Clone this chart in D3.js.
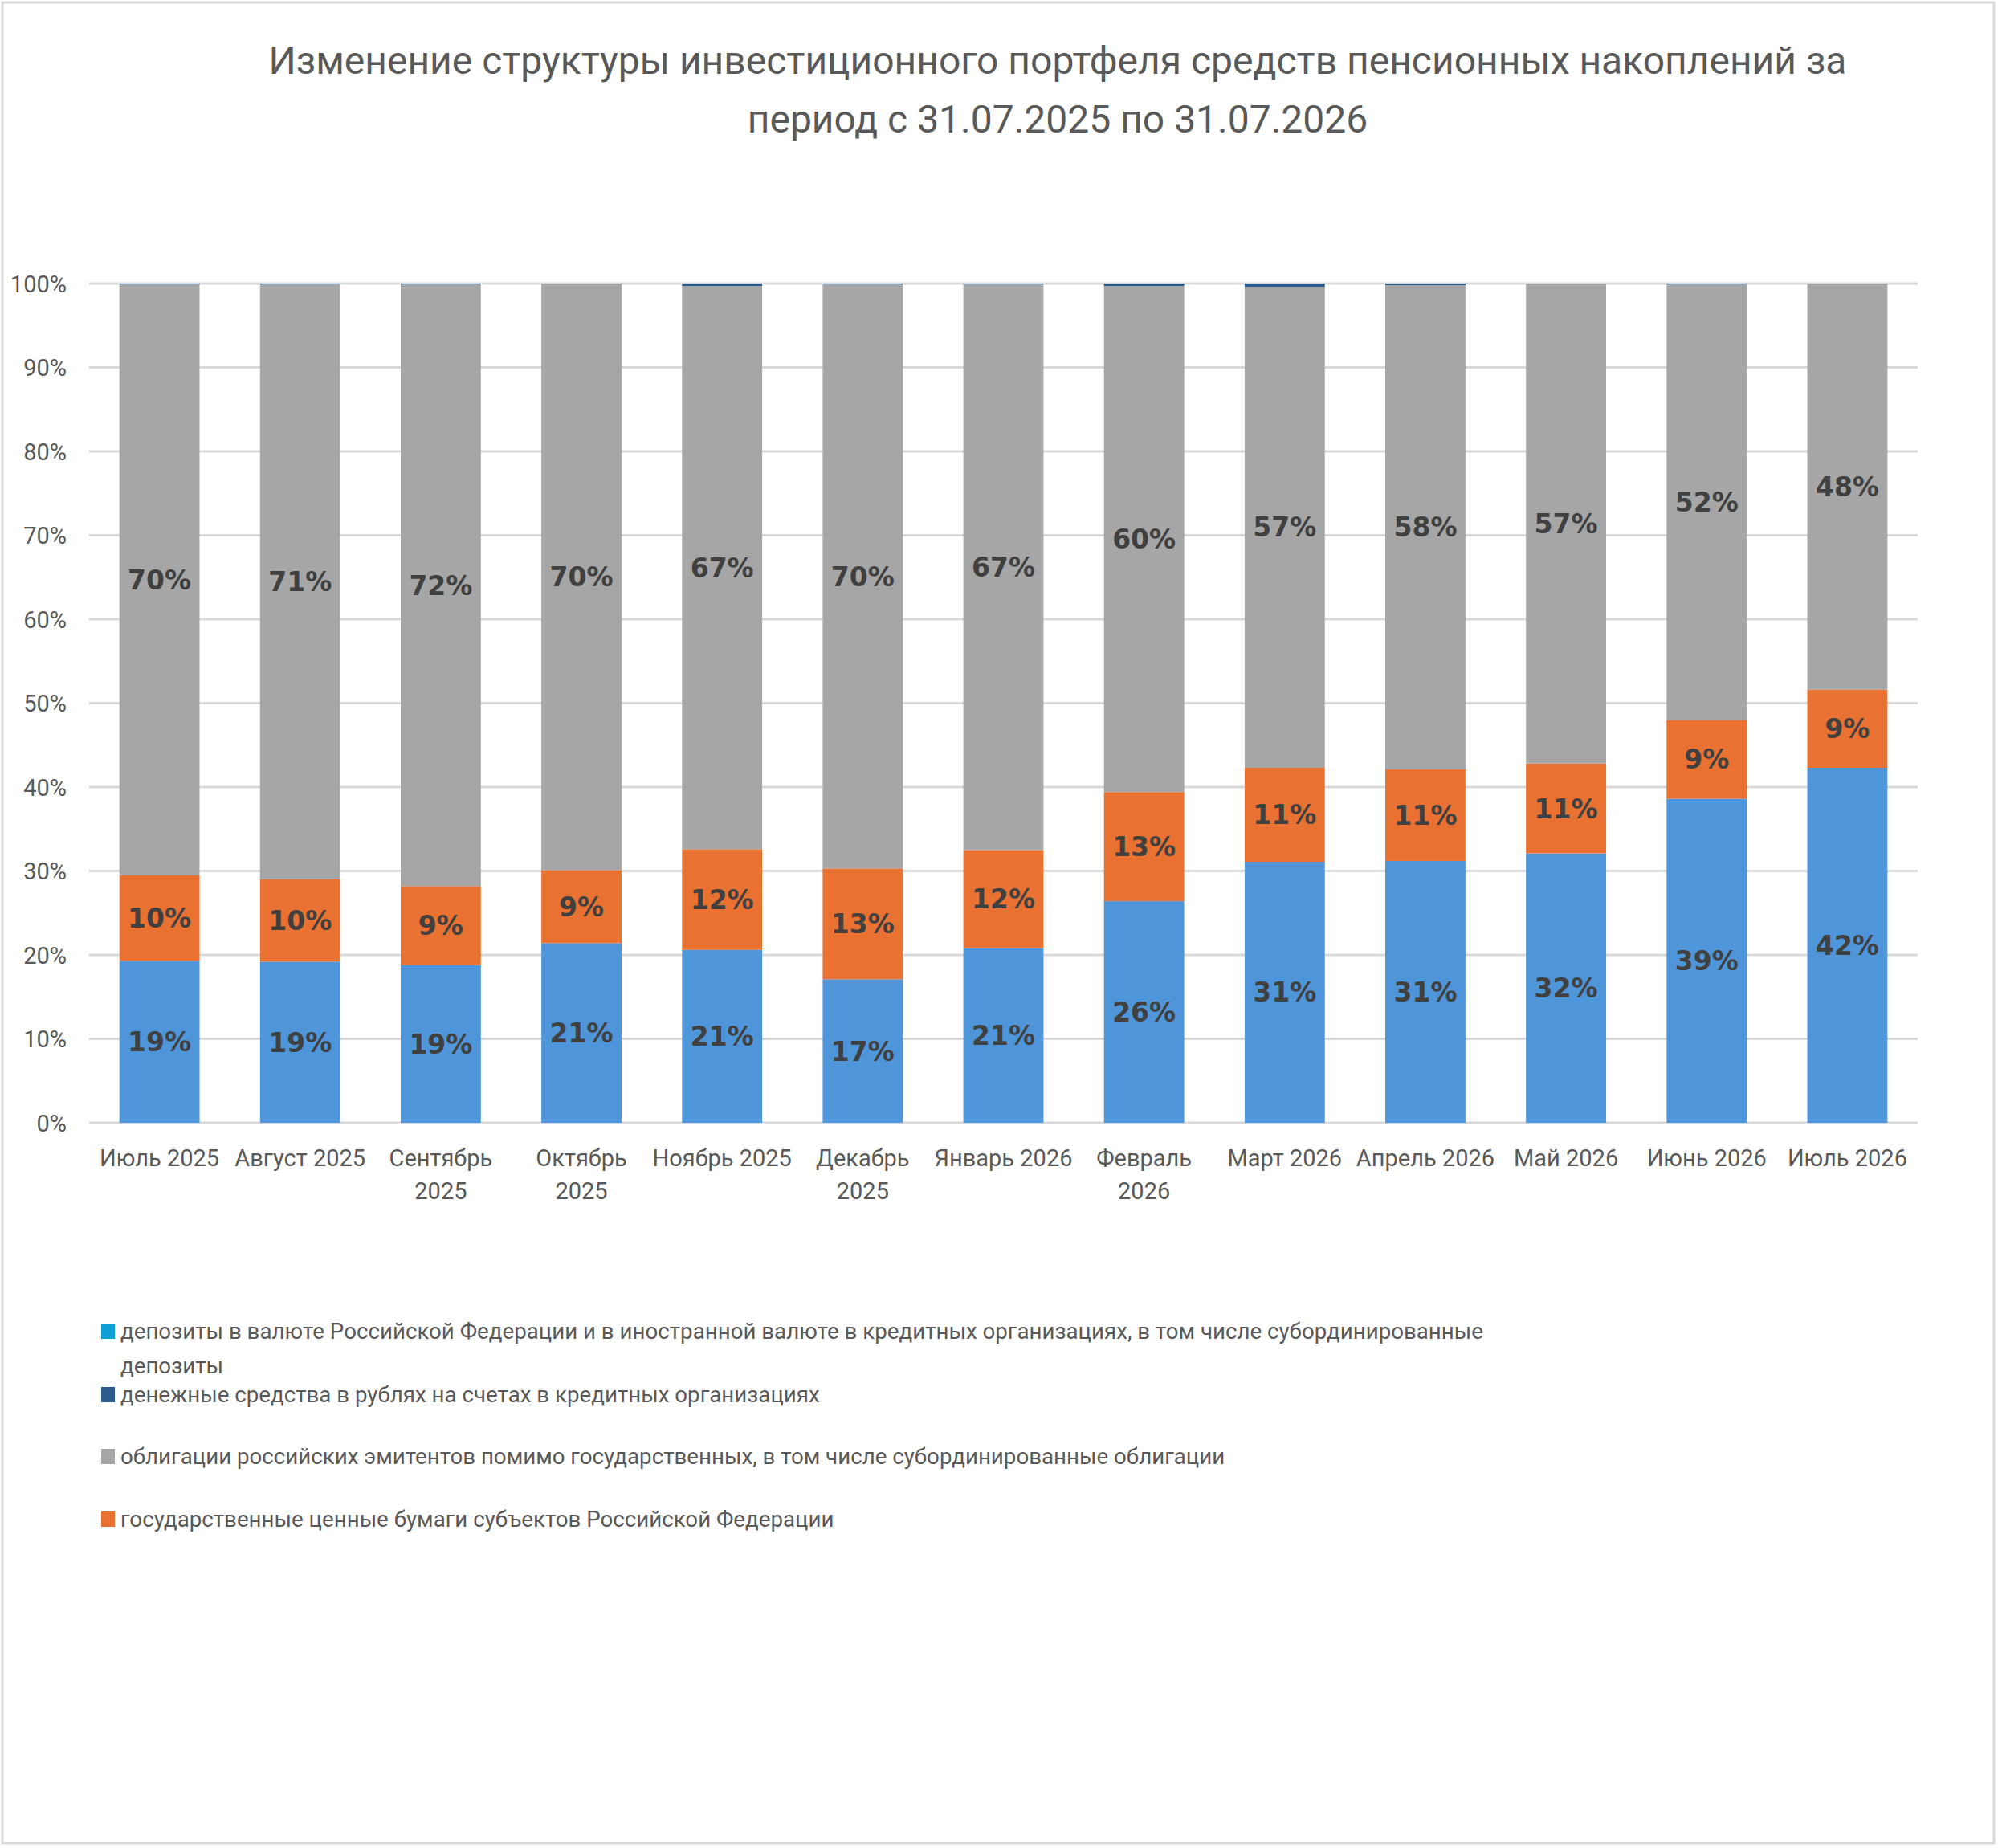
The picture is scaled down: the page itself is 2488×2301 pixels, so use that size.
<!DOCTYPE html>
<html><head><meta charset="utf-8">
<script src="https://cdn.jsdelivr.net/npm/d3@7"></script>
<style>body{margin:0;background:#fff}</style>
</head><body>
<svg id="c" width="2488" height="2301"></svg>
<script>
const categories = ["Июль 2025","Август 2025","Сентябрь 2025","Октябрь 2025","Ноябрь 2025","Декабрь 2025","Январь 2026","Февраль 2026","Март 2026","Апрель 2026","Май 2026","Июнь 2026","Июль 2026"];
const xLabelLines = [["Июль 2025"],["Август 2025"],["Сентябрь","2025"],["Октябрь","2025"],["Ноябрь 2025"],["Декабрь","2025"],["Январь 2026"],["Февраль","2026"],["Март 2026"],["Апрель 2026"],["Май 2026"],["Июнь 2026"],["Июль 2026"]];
// shares, %
const federalBonds = [19.3,19.2,18.8,21.4,20.6,17.1,20.8,26.4,31.1,31.2,32.1,38.6,42.3];
const regionalBonds = [10.2,9.8,9.4,8.7,12.0,13.2,11.7,13.0,11.2,10.9,10.7,9.4,9.3];
const corporateBonds = [70.4,70.9,71.7,69.9,67.1,69.6,67.4,60.3,57.3,57.7,57.2,51.9,48.4];
const cashRub = [0.1,0.1,0.1,0.0,0.3,0.1,0.1,0.3,0.4,0.2,0.0,0.1,0.0];
const deposits = [0,0,0,0,0,0,0,0,0,0,0,0,0];
const yTicks = [0,0.1,0.2,0.3,0.4,0.5,0.6,0.7,0.8,0.9,1.0];
const titleLines = ["Изменение структуры инвестиционного портфеля средств пенсионных накоплений за","период с 31.07.2025 по 31.07.2026"];
const legendNames = ["депозиты в валюте Российской Федерации и в иностранной валюте в кредитных организациях, в том числе субординированные","денежные средства в рублях на счетах в кредитных организациях","облигации российских эмитентов помимо государственных, в том числе субординированные облигации","государственные ценные бумаги субъектов Российской Федерации"];

const seriesKeys = ["federal","regional","corporate","cash","deposits"];
const seriesColors = {federal:"#4E95D9",regional:"#E97132",corporate:"#A6A6A6",cash:"#2E5C8A",deposits:"#0F9ED5"};
const labelled = new Set(["federal","regional","corporate"]);

const rows = categories.map((c,i)=>({cat:c, federal:federalBonds[i]/100, regional:regionalBonds[i]/100, corporate:corporateBonds[i]/100, cash:cashRub[i]/100, deposits:deposits[i]/100}));

const svg = d3.select("#c");
const FONT = "Roboto, 'Open Sans', sans-serif";
svg.append("rect").attr("x",0).attr("y",0).attr("width",2488).attr("height",2301).attr("fill","#fff");
svg.append("rect").attr("x",3).attr("y",3).attr("width",2480).attr("height",2292).attr("fill","#fff").attr("stroke","#d9d9d9").attr("stroke-width",3);

// title
const title = svg.append("text").attr("fill","#595959").attr("font-family",FONT).attr("font-size",48).attr("text-anchor","middle");
titleLines.forEach((t,i)=>title.append("tspan").attr("x",1317).attr("y",92+i*73).text(t));

const x = d3.scaleBand().domain(categories).range([111,2388]).paddingInner(0.43).paddingOuter(0.215);
const y = d3.scaleLinear().domain([0,1]).range([1398,353]);

// gridlines
svg.append("g").selectAll("line").data(yTicks).join("line")
  .attr("x1",111).attr("x2",2388).attr("y1",d=>y(d)).attr("y2",d=>y(d))
  .attr("stroke","#d9d9d9").attr("stroke-width",3);

// y axis
const yAxis = d3.axisLeft(y).tickValues(yTicks).tickFormat(d3.format(".0%")).tickSize(0).tickPadding(0);
const ya = svg.append("g").attr("transform","translate(83,0)").call(yAxis);
ya.select(".domain").remove();
ya.selectAll("text").attr("fill","#595959").attr("font-family",FONT).attr("font-size",29).attr("dy","0.35em");

const stack = d3.stack().keys(seriesKeys)(rows);
const g = svg.append("g");
stack.forEach(s=>{
  g.append("g").attr("fill",seriesColors[s.key]).selectAll("rect").data(s).join("rect")
    .attr("x",d=>x(d.data.cat)).attr("width",x.bandwidth())
    .attr("y",d=>y(d[1])).attr("height",d=>Math.max(0,y(d[0])-y(d[1])));
});
const fmt = d3.format(".0%");
stack.filter(s=>labelled.has(s.key)).forEach(s=>{
  g.append("g").selectAll("text").data(s).join("text")
    .attr("x",d=>x(d.data.cat)+x.bandwidth()/2).attr("y",d=>(y(d[0])+y(d[1]))/2)
    .attr("dy","0.36em").attr("text-anchor","middle")
    .attr("font-family","'DejaVu Sans', sans-serif").attr("font-weight","bold").attr("font-size",33)
    .attr("fill","#404040").text(d=>fmt(d[1]-d[0]));
});

// x axis labels
const xl = svg.append("g").selectAll("text").data(categories).join("text")
  .attr("text-anchor","middle").attr("fill","#595959").attr("font-family",FONT).attr("font-size",29);
xl.each(function(c,i){
  const t = d3.select(this);
  xLabelLines[i].forEach((ln,j)=>t.append("tspan").attr("x",x(c)+x.bandwidth()/2).attr("y",1452+j*41).text(ln));
});

// legend
const legendColors = ["#0F9ED5","#2E5C8A","#A6A6A6","#E97132"];
const legendY = [1657,1736,1813,1891];
const lg = svg.append("g");
legendNames.forEach((n,i)=>{
  lg.append("rect").attr("x",126).attr("y",legendY[i]-9).attr("width",17).attr("height",19).attr("fill",legendColors[i]);
  lg.append("text").attr("fill","#595959").attr("font-family",FONT).attr("font-size",27.7).attr("x",150).attr("y",legendY[i]).attr("dy","0.35em").text(n);
});
lg.append("text").attr("fill","#595959").attr("font-family",FONT).attr("font-size",27.7).attr("x",150).attr("y",1700).attr("dy","0.35em").text("депозиты");
</script>
</body></html>
